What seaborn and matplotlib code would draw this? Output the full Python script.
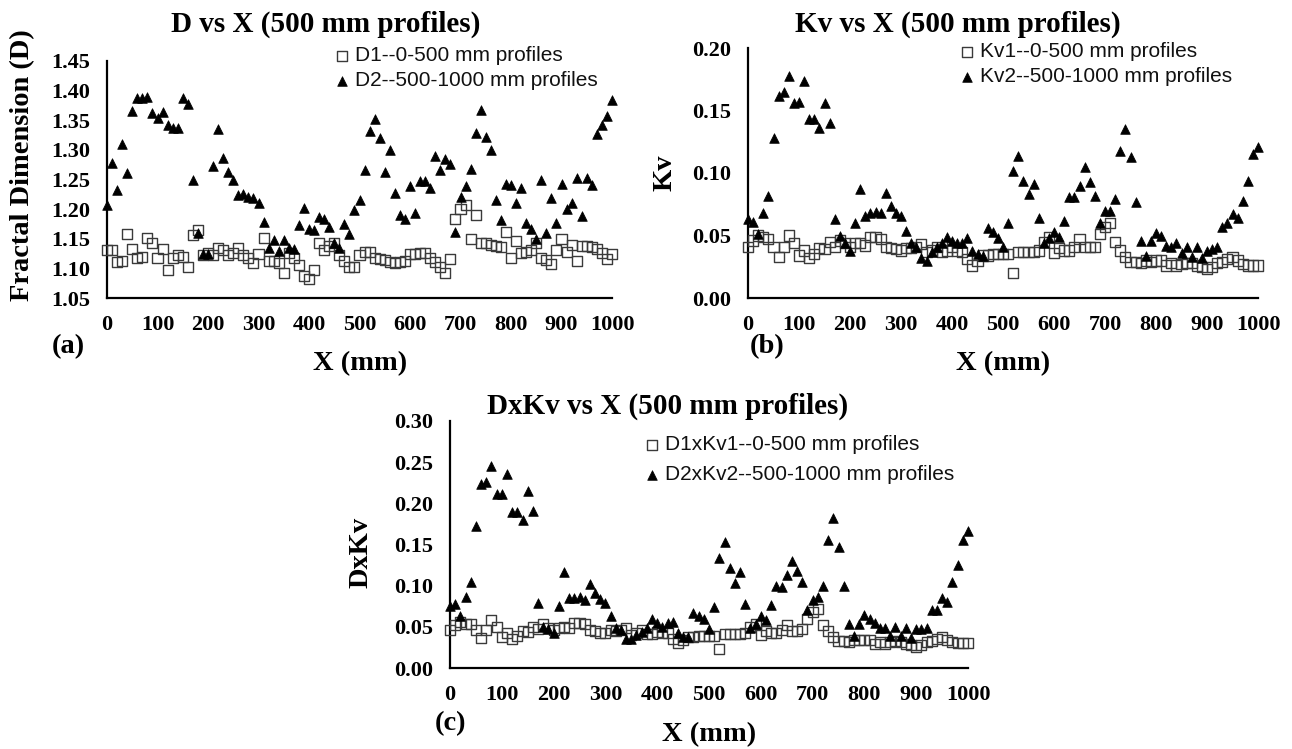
import matplotlib
matplotlib.use("Agg")
import matplotlib.pyplot as plt
import seaborn as sns

# sampling positions along the profile (mm)
X_MM = list(range(0, 1001, 10))

D1 = [1.131, 1.131, 1.111, 1.112, 1.158, 1.132, 1.117, 1.120, 1.152, 1.143,
      1.118, 1.132, 1.098, 1.118, 1.122, 1.119, 1.103, 1.156, 1.164, 1.123,
      1.126, 1.123, 1.134, 1.131, 1.122, 1.126, 1.134, 1.122, 1.117, 1.109,
      1.125, 1.151, 1.113, 1.113, 1.109, 1.092, 1.126, 1.117, 1.106, 1.087,
      1.082, 1.098, 1.142, 1.131, 1.138, 1.142, 1.122, 1.113, 1.103, 1.103,
      1.123, 1.128, 1.128, 1.117, 1.115, 1.114, 1.111, 1.109, 1.111, 1.112,
      1.124, 1.125, 1.126, 1.126, 1.118, 1.111, 1.103, 1.092, 1.115, 1.184,
      1.201, 1.207, 1.149, 1.190, 1.143, 1.142, 1.139, 1.138, 1.136, 1.162,
      1.118, 1.146, 1.126, 1.128, 1.131, 1.142, 1.117, 1.114, 1.107, 1.131,
      1.149, 1.128, 1.139, 1.112, 1.137, 1.137, 1.136, 1.133, 1.126, 1.115,
      1.124]
D2 = [1.207, 1.278, 1.232, 1.310, 1.261, 1.366, 1.387, 1.387, 1.390, 1.362,
      1.354, 1.364, 1.342, 1.337, 1.337, 1.388, 1.377, 1.249, 1.160, 1.124,
      1.124, 1.272, 1.336, 1.287, 1.263, 1.250, 1.224, 1.226, 1.221, 1.218,
      1.210, 1.179, 1.134, 1.148, 1.130, 1.148, 1.134, 1.133, 1.173, 1.202,
      1.166, 1.164, 1.187, 1.183, 1.169, 1.142, 1.134, 1.175, 1.158, 1.198,
      1.215, 1.266, 1.332, 1.352, 1.320, 1.262, 1.300, 1.228, 1.190, 1.183,
      1.239, 1.194, 1.248, 1.247, 1.235, 1.290, 1.266, 1.284, 1.277, 1.162,
      1.221, 1.239, 1.267, 1.328, 1.367, 1.322, 1.300, 1.215, 1.182, 1.242,
      1.241, 1.211, 1.235, 1.176, 1.166, 1.149, 1.249, 1.160, 1.219, 1.176,
      1.242, 1.201, 1.211, 1.252, 1.188, 1.252, 1.241, 1.327, 1.342, 1.357,
      1.385]

KV1 = [0.041, 0.046, 0.050, 0.049, 0.047, 0.041, 0.033, 0.041, 0.050, 0.044,
       0.034, 0.038, 0.032, 0.035, 0.040, 0.039, 0.045, 0.041, 0.046, 0.044,
       0.041, 0.044, 0.044, 0.042, 0.049, 0.049, 0.047, 0.041, 0.040, 0.039,
       0.038, 0.040, 0.040, 0.041, 0.043, 0.037, 0.038, 0.041, 0.037, 0.038,
       0.041, 0.038, 0.037, 0.031, 0.026, 0.030, 0.034, 0.034, 0.035, 0.035,
       0.035, 0.035, 0.020, 0.037, 0.037, 0.037, 0.037, 0.038, 0.045, 0.049,
       0.036, 0.040, 0.038, 0.038, 0.041, 0.047, 0.041, 0.041, 0.041, 0.051,
       0.057, 0.060, 0.045, 0.038, 0.033, 0.029, 0.029, 0.028, 0.030, 0.029,
       0.030, 0.030, 0.026, 0.028, 0.026, 0.027, 0.028, 0.028, 0.026, 0.025,
       0.023, 0.025, 0.028, 0.029, 0.031, 0.033, 0.030, 0.027, 0.026, 0.026,
       0.026]
KV2 = [0.063, 0.061, 0.051, 0.068, 0.082, 0.128, 0.162, 0.165, 0.178, 0.156,
       0.157, 0.174, 0.143, 0.143, 0.136, 0.156, 0.140, 0.063, 0.050, 0.044,
       0.038, 0.060, 0.087, 0.066, 0.068, 0.069, 0.068, 0.084, 0.074, 0.068,
       0.066, 0.054, 0.044, 0.041, 0.032, 0.030, 0.037, 0.041, 0.044, 0.049,
       0.046, 0.044, 0.044, 0.048, 0.038, 0.035, 0.034, 0.056, 0.053, 0.048,
       0.041, 0.060, 0.102, 0.114, 0.094, 0.083, 0.091, 0.064, 0.044, 0.048,
       0.053, 0.049, 0.062, 0.081, 0.081, 0.090, 0.105, 0.093, 0.082, 0.060,
       0.070, 0.070, 0.079, 0.118, 0.135, 0.113, 0.077, 0.046, 0.034, 0.046,
       0.052, 0.050, 0.042, 0.041, 0.044, 0.036, 0.041, 0.033, 0.041, 0.032,
       0.038, 0.039, 0.041, 0.057, 0.060, 0.067, 0.064, 0.078, 0.094, 0.115,
       0.121]

DKV1 = [0.046, 0.052, 0.056, 0.054, 0.054, 0.046, 0.037, 0.046, 0.058, 0.050,
        0.038, 0.043, 0.035, 0.039, 0.045, 0.044, 0.050, 0.047, 0.054, 0.049,
        0.046, 0.049, 0.050, 0.048, 0.055, 0.055, 0.053, 0.046, 0.045, 0.043,
        0.043, 0.046, 0.045, 0.046, 0.048, 0.040, 0.043, 0.046, 0.041, 0.041,
        0.044, 0.042, 0.042, 0.035, 0.030, 0.034, 0.038, 0.038, 0.039, 0.039,
        0.039, 0.039, 0.023, 0.041, 0.041, 0.041, 0.041, 0.042, 0.050, 0.054,
        0.040, 0.045, 0.043, 0.043, 0.046, 0.052, 0.045, 0.045, 0.047, 0.060,
        0.068, 0.072, 0.052, 0.045, 0.038, 0.033, 0.033, 0.032, 0.034, 0.034,
        0.034, 0.034, 0.029, 0.032, 0.029, 0.031, 0.033, 0.032, 0.029, 0.028,
        0.026, 0.028, 0.032, 0.033, 0.035, 0.038, 0.034, 0.031, 0.030, 0.030,
        0.030]
DKV2 = [0.075, 0.078, 0.063, 0.086, 0.104, 0.173, 0.223, 0.226, 0.245, 0.211,
        0.211, 0.236, 0.190, 0.190, 0.180, 0.215, 0.191, 0.079, 0.050, 0.047,
        0.042, 0.075, 0.116, 0.085, 0.085, 0.086, 0.083, 0.102, 0.091, 0.084,
        0.079, 0.063, 0.048, 0.046, 0.035, 0.035, 0.040, 0.044, 0.049, 0.059,
        0.055, 0.050, 0.055, 0.056, 0.042, 0.038, 0.038, 0.067, 0.063, 0.060,
        0.047, 0.074, 0.133, 0.153, 0.122, 0.103, 0.117, 0.078, 0.048, 0.053,
        0.063, 0.058, 0.077, 0.099, 0.098, 0.113, 0.130, 0.118, 0.104, 0.070,
        0.083, 0.086, 0.099, 0.156, 0.182, 0.147, 0.099, 0.054, 0.039, 0.053,
        0.064, 0.060, 0.055, 0.049, 0.049, 0.039, 0.050, 0.039, 0.049, 0.036,
        0.047, 0.047, 0.049, 0.071, 0.070, 0.085, 0.080, 0.104, 0.125, 0.155,
        0.167]

X_TICKS = [0, 100, 200, 300, 400, 500, 600, 700, 800, 900, 1000]

sns.set_style("white")
plt.rcParams["font.family"] = ["Liberation Serif", "DejaVu Serif"]
plt.rcParams["font.weight"] = "bold"
plt.rcParams["text.color"] = "black"
plt.rcParams["xtick.color"] = "black"
plt.rcParams["ytick.color"] = "black"

W, H = 1292, 749
fig = plt.figure(figsize=(W / 100, H / 100), dpi=100)


def px_axes(left, top, right, bottom):
    return fig.add_axes([left / W, 1 - bottom / H, (right - left) / W, (bottom - top) / H])


def px_text(x, y, s, **kw):
    fig.text(x / W, 1 - y / H, s, ha="center", va="center", color="black", **kw)


def draw_panel(ax, y1, y2, lab1, lab2, ylim, yticks, legend_xy, legend_gap):
    sns.scatterplot(x=X_MM, y=y1, ax=ax, marker="s", s=52, facecolor="none",
                    edgecolor="#3a3a3a", linewidth=1.0, label=lab1,
                    legend=False, clip_on=False, zorder=3)
    sns.scatterplot(x=X_MM, y=y2, ax=ax, marker="^", s=48, color="black",
                    edgecolor="black", linewidth=0.5, label=lab2,
                    legend=False, clip_on=False, zorder=4)
    ax.set_xlim(0, 1000)
    ax.set_ylim(*ylim)
    ax.set_xticks(X_TICKS)
    ax.set_yticks(yticks)
    ax.set_yticklabels([f"{t:.2f}" for t in yticks])
    ax.tick_params(axis="both", length=0, labelsize=16, pad=12, labelcolor="black")
    for lbl in ax.get_xticklabels() + ax.get_yticklabels():
        lbl.set_fontweight("bold")
    sns.despine(ax=ax)
    for side in ("left", "bottom"):
        ax.spines[side].set_color("black")
        ax.spines[side].set_linewidth(1.6)
    ax.set_xlabel("")
    ax.set_ylabel("")
    leg = ax.legend(loc="upper left",
                    bbox_to_anchor=(legend_xy[0] / W, 1 - legend_xy[1] / H),
                    bbox_transform=fig.transFigure, frameon=False, borderpad=0,
                    handletextpad=0.1, handlelength=1.0, labelspacing=legend_gap,
                    borderaxespad=0,
                    prop={"family": "Liberation Sans", "weight": "normal", "size": 15})
    for t in leg.get_texts():
        t.set_color("#111111")


ax_a = px_axes(107, 61, 612, 298)
draw_panel(ax_a, D1, D2, "D1--0-500 mm profiles", "D2--500-1000 mm profiles",
           (1.05, 1.45), [1.05, 1.10, 1.15, 1.20, 1.25, 1.30, 1.35, 1.40, 1.45],
           (332, 46), 0.3)

ax_b = px_axes(748, 48, 1258, 298)
draw_panel(ax_b, KV1, KV2, "Kv1--0-500 mm profiles", "Kv2--500-1000 mm profiles",
           (0.0, 0.20), [0.00, 0.05, 0.10, 0.15, 0.20],
           (957, 42), 0.3)

ax_c = px_axes(450, 421, 968, 668)
draw_panel(ax_c, DKV1, DKV2, "D1xKv1--0-500 mm profiles", "D2xKv2--500-1000 mm profiles",
           (0.0, 0.30), [0.00, 0.05, 0.10, 0.15, 0.20, 0.25, 0.30],
           (642, 435), 0.55)

tfont = {"fontsize": 21, "fontweight": "bold"}
px_text(326, 24, "D vs X (500 mm profiles)", **tfont)
px_text(958, 24, "Kv vs X (500 mm profiles)", **tfont)
px_text(668, 406, "DxKv vs X (500 mm profiles)", **tfont)

lfont = {"fontsize": 20.5, "fontweight": "bold"}
px_text(360, 364, "X (mm)", **lfont)
px_text(1003, 364, "X (mm)", **lfont)
px_text(709, 735, "X (mm)", **lfont)

px_text(23, 165, "Fractal Dimension (D)", rotation=90, **lfont)
px_text(665, 173, "Kv", rotation=90, **lfont)
px_text(361, 552, "DxKv", rotation=90, **lfont)

px_text(68, 347, "(a)", **lfont)
px_text(767, 347, "(b)", **lfont)
px_text(450, 724, "(c)", **lfont)

fig.savefig("out.png", dpi=100)
